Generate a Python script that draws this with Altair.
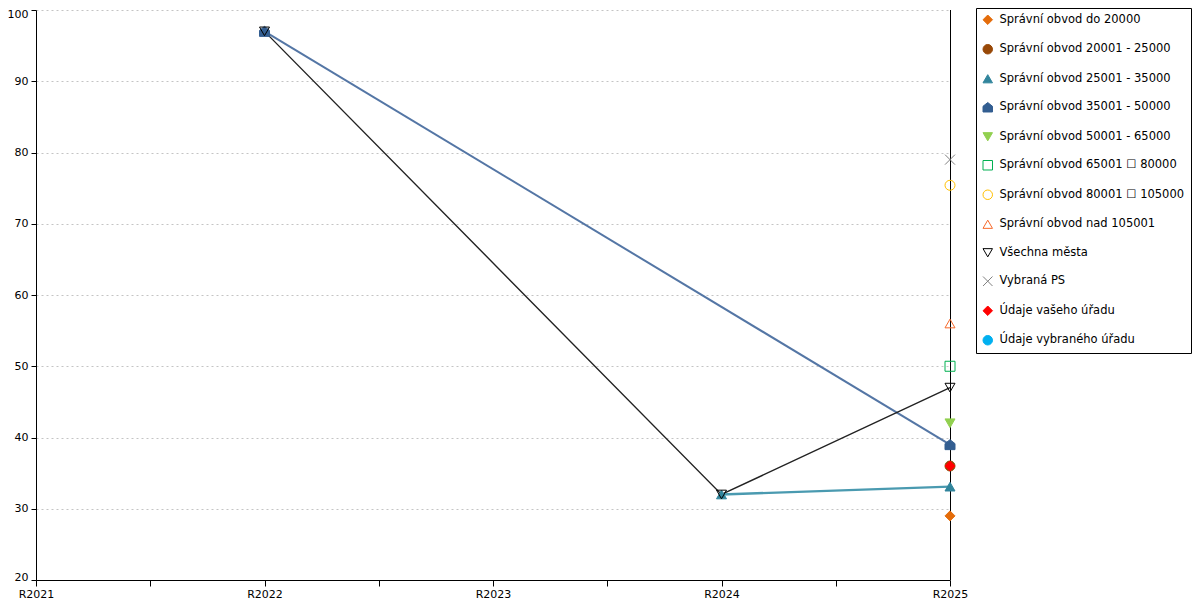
import altair as alt
import pandas as pd

# ---- data ----
series = [
    "Správní obvod do 20000",
    "Správní obvod 20001 - 25000",
    "Správní obvod 25001 - 35000",
    "Správní obvod 35001 - 50000",
    "Správní obvod 50001 - 65000",
    "Správní obvod 65001 ☐ 80000",
    "Správní obvod 80001 ☐ 105000",
    "Správní obvod nad 105001",
    "Všechna města",
    "Vybraná PS",
    "Údaje vašeho úřadu",
    "Údaje vybraného úřadu",
]
years = [2021, 2022, 2023, 2024, 2025]
tick_values = [2021, 2021.5, 2022, 2022.5, 2023, 2023.5, 2024, 2024.5, 2025]
y_ticks = [20, 30, 40, 50, 60, 70, 80, 90, 100]

values = {
    "Správní obvod do 20000":       [None, None, None, None, 29],
    "Správní obvod 20001 - 25000":  [None, None, None, None, 36],
    "Správní obvod 25001 - 35000":  [None, None, None, 32, 33.1],
    "Správní obvod 35001 - 50000":  [None, 97, None, None, 39],
    "Správní obvod 50001 - 65000":  [None, None, None, None, 42],
    "Správní obvod 65001 ☐ 80000":  [None, None, None, None, 50],
    "Správní obvod 80001 ☐ 105000": [None, None, None, None, 75.4],
    "Správní obvod nad 105001":     [None, None, None, None, 56],
    "Všechna města":                [None, 97, None, 32, 47],
    "Vybraná PS":                   [None, None, None, None, 79],
    "Údaje vašeho úřadu":           [None, None, None, None, 36],
    "Údaje vybraného úřadu":        [None, None, None, None, None],
}

house = "M0,-1L1,-0.2L1,1L-1,1L-1,-0.2Z"
xmark = "M-1,-1L1,1M-1,1L1,-1"
shapes = ["diamond", "circle", "triangle-up", house, "triangle-down", "square",
          "circle", "triangle-up", "triangle-down", xmark, "diamond", "circle"]
strokes = ["#e46c0a", "#984807", "#31859c", "#335e91", "#92d050", "#00b050",
           "#ffc000", "#f7692a", "#000000", "#808080", "#ff0000", "#00b0f0"]
fills = ["#e46c0a", "#984807", "#31859c", "#335e91", "#92d050", "transparent",
         "transparent", "transparent", "transparent", "transparent", "#ff0000", "#00b0f0"]

line_series = ["Správní obvod 35001 - 50000", "Všechna města", "Správní obvod 25001 - 35000"]
line_colors = ["#5476a5", "#222222", "#4a9ab0"]
line_widths = [2, 1.4, 2.4]

# ---- tables ----
rows = []
for i, s in enumerate(series):
    for yr, v in zip(years, values[s]):
        if v is not None:
            rows.append({"series": s, "year": yr, "value": v, "idx": i})
df = pd.DataFrame(rows)

x_enc = alt.X("year:Q",
              scale=alt.Scale(domain=[2021, 2025], nice=False, zero=False),
              axis=alt.Axis(values=tick_values, title=None, grid=False,
                            labelExpr="datum.value % 1 === 0 ? 'R' + datum.value : ''",
                            tickSize=6, labelPadding=2, labelFlush=False))
y_enc = alt.Y("value:Q",
              scale=alt.Scale(domain=[20, 100], nice=False, zero=False),
              axis=alt.Axis(values=y_ticks, title=None, grid=True,
                            gridDash=[2, 3], gridColor="#c4c4c4", gridWidth=1,
                            tickSize=5, labelPadding=3,
                            labelFlush=True, labelFlushOffset=2))

layers = []
for s, c, w in zip(line_series, line_colors, line_widths):
    layers.append(
        alt.Chart(df).transform_filter(alt.datum.series == s)
        .mark_line(color=c, strokeWidth=w)
        .encode(x=x_enc, y=y_enc, order="year:Q")
    )

right_rule = alt.Chart(pd.DataFrame({"year": [2025]})).mark_rule(
    color="black", strokeWidth=1, xOffset=0.5).encode(x=alt.X("year:Q"))

points = alt.Chart(df).mark_point(filled=True, opacity=1, size=100, strokeWidth=1).encode(
    x=x_enc, y=y_enc,
    shape=alt.Shape("series:N", scale=alt.Scale(domain=series, range=shapes),
                    legend=alt.Legend(title=None)),
    fill=alt.Fill("series:N", scale=alt.Scale(domain=series, range=fills),
                  legend=alt.Legend(title=None)),
    stroke=alt.Stroke("series:N", scale=alt.Scale(domain=series, range=strokes),
                      legend=alt.Legend(title=None)),
    order=alt.Order("idx:Q"),
)

chart = alt.layer(*layers, right_rule, points).properties(
    width=914, height=570,
    autosize=alt.AutoSizeParams(type="none"),
    padding={"left": 28, "top": 2, "right": 242, "bottom": 20},
).configure_view(stroke="transparent").configure_axis(
    domainColor="black", tickColor="black", labelColor="black",
    labelFont="DejaVu Sans", labelFontSize=11, domainWidth=1, tickWidth=1,
).configure_legend(
    orient="none", legendX=940, legendY=-2, padding=6,
    strokeColor="black", fillColor="white",
    labelFont="DejaVu Sans", labelFontSize=11.5, labelColor="black",
    rowPadding=15.5, symbolSize=90, labelLimit=300, labelOffset=6,
    symbolStrokeWidth=1,
)

chart.save("out.html", embed_options={"renderer": "svg", "actions": False})
